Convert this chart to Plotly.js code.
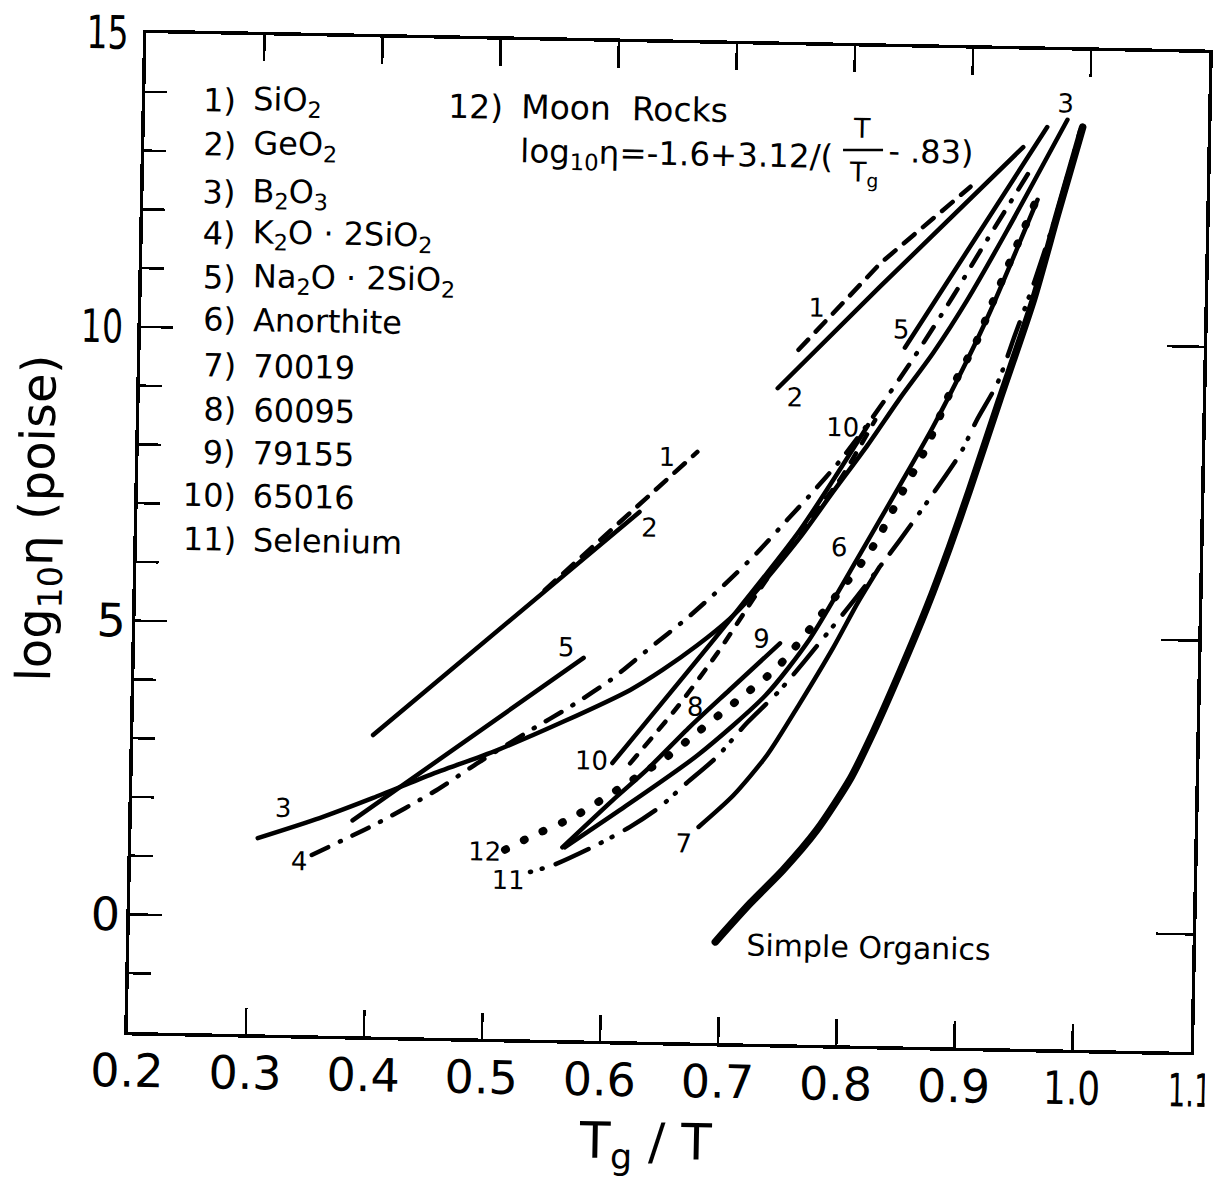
<!DOCTYPE html>
<html>
<head>
<meta charset="utf-8">
<script src="https://cdn.plot.ly/plotly-3.0.1.min.js"></script>
<style>
html,body{margin:0;padding:0;background:#fff;overflow:hidden;}
#chart{width:1215px;height:1180px;transform:rotate(1.077deg);transform-origin:668px 542px;}
</style>
</head>
<body>
<div id="chart"></div>
<script>
// ---------------- data (Tg/T , log10 eta) ----------------
const xTickVals = [0.2,0.3,0.4,0.5,0.6,0.7,0.8,0.9,1.0,1.1];
const xTickText = ['0.2','0.3','0.4','0.5','0.6','0.7','0.8','0.9','1.0','1.1'];
const yTickVals = [0,5,10,15];
const yTickText = ['0','5','10','15'];
const yMinorVals = [-1,1,2,3,4,6,7,8,9,11,12,13,14];

const sio2_x = [0.546,0.673,null,0.757,0.825,0.900];
const sio2_y = [5.65,8.05,null,9.82,11.32,12.65];

const geo2_x = [0.403,0.625,null,0.740,0.825,0.944];
const geo2_y = [3.13,7.01,null,9.16,10.92,13.34];

const b2o3_x = [0.307,0.359,0.404,0.452,0.508,0.564,0.620,0.647,0.676,0.703,0.720,0.761,0.788,0.817,0.844,0.871,0.899,0.932,0.981];
const b2o3_y = [1.34,1.70,2.06,2.47,2.91,3.42,3.98,4.33,4.76,5.22,5.58,6.62,7.40,8.22,9.04,9.81,10.72,11.93,13.82];

const k2o_x = [0.353,0.408,0.455,0.496,0.536,0.569,0.603,0.636,0.667,0.696,0.725,0.750,0.769,0.794,0.821,0.854,0.887,0.909,0.953];
const k2o_y = [1.07,1.63,2.18,2.74,3.26,3.67,4.14,4.70,5.22,5.76,6.35,6.92,7.35,7.95,8.70,9.70,10.78,11.55,13.04];

const na2o_x = [0.387,0.580,null,0.847,0.964];
const na2o_y = [1.67,4.51,null,9.89,13.69];

const anorthite_x = [0.567,0.613,0.678,0.735,0.771,0.812,0.845,0.872,0.900,0.919,0.957];
const anorthite_y = [1.28,1.93,2.89,3.94,4.90,6.35,7.55,8.55,9.70,10.55,12.45];

const s70019_x = [0.680,0.709,0.737,0.763,0.791,0.811,0.829];
const s70019_y = [1.67,2.22,2.92,3.78,4.76,5.53,6.15];

const s60095_x = [0.621,0.660,0.693,0.726,0.761,0.794,0.823];
const s60095_y = [2.73,3.70,4.63,5.67,6.72,7.62,8.65];

const s79155_x = [0.565,0.607,0.635,0.671,0.704,0.746];
const s79155_y = [1.28,2.10,2.62,3.37,4.01,4.82];

const s65016_x = [0.606,0.703,0.761,0.817];
const s65016_y = [2.73,5.20,6.75,8.56];

const selenium_x = [0.538,0.557,0.594,0.622,0.647,0.669,0.694,0.719,0.747,0.788,0.810,0.846,0.877,0.896,0.909,0.926,0.940,0.956,0.973,0.992];
const selenium_y = [0.85,0.97,1.33,1.65,2.00,2.41,2.86,3.45,4.03,5.06,5.63,6.62,7.53,8.12,8.68,9.32,10.14,11.08,12.20,13.65];

const moon_x = [0.5165,0.537,0.574,0.613,0.652,0.677,0.711,0.744,0.788,0.823,0.845,0.867,0.888,0.908,0.919,0.957];
const moon_y = [1.22,1.44,1.80,2.31,2.85,3.27,3.84,4.41,5.52,6.49,7.35,8.21,9.24,10.04,10.61,12.50];

const organics_x = [0.696,0.725,0.752,0.780,0.808,0.826,0.848,0.870,0.888,0.904,0.928,0.955,0.974,0.994];
const organics_y = [-0.28,0.39,0.96,1.65,2.55,3.32,4.37,5.49,6.51,7.49,9.03,10.74,12.20,13.70];

const legendNums = ['1)','2)','3)','4)','5)','6)','7)','8)','9)','10)','11)'];
const legendNames = ['SiO<sub>2</sub>','GeO<sub>2</sub>','B<sub>2</sub>O<sub>3</sub>',
  'K<sub>2</sub>O · 2SiO<sub>2</sub>','Na<sub>2</sub>O · 2SiO<sub>2</sub>','Anorthite',
  '70019','60095','79155','65016','Selenium'];

// ---------------- helpers ----------------
const FONT = 'DejaVu Sans, Liberation Sans, sans-serif';
function tr(x, y, width, dash, shape) {
  return {x: x, y: y, type: 'scatter', mode: 'lines', hoverinfo: 'skip', showlegend: false,
    line: {color: '#000', width: width, dash: dash, shape: shape, smoothing: 0.7}};
}
// layout placement helper (scan page pixel -> paper fraction of the unrotated plot)
const ROT = 0.0188, CX = 668, CY = 542, PL = 137, PT = 43, PW = 1063, PH = 999;
function at(X, Y) {
  const xu = X + ROT * (Y - CY), yu = Y - ROT * (X - CX);
  return [(xu - PL) / PW, 1 - (yu - PT) / PH];
}
function ann(text, X, Y, size, xanchor, extra) {
  const p = at(X, Y);
  return Object.assign({text: text, x: p[0], y: p[1], xref: 'paper', yref: 'paper',
    xanchor: xanchor || 'center', yanchor: 'middle', showarrow: false,
    font: {family: FONT, size: size, color: '#000'}}, extra || {});
}

const traces = [
  tr(sio2_x, sio2_y, 4.5, '14px,11px', 'linear'),
  tr(geo2_x, geo2_y, 4.5, 'solid', 'spline'),
  tr(b2o3_x, b2o3_y, 4.5, 'solid', 'spline'),
  tr(k2o_x, k2o_y, 4.5, '18px,13px,1px,13px', 'spline'),
  tr(na2o_x, na2o_y, 4.5, 'solid', 'linear'),
  tr(anorthite_x, anorthite_y, 4.5, 'solid', 'spline'),
  tr(s70019_x, s70019_y, 4.5, 'solid', 'spline'),
  tr(s60095_x, s60095_y, 4.5, '10px,12px', 'spline'),
  tr(s79155_x, s79155_y, 4.5, 'solid', 'spline'),
  tr(s65016_x, s65016_y, 4.5, 'solid', 'spline'),
  tr(selenium_x, selenium_y, 4.5, '1px,11px,1px,14px,36px,14px', 'spline'),
  tr(moon_x, moon_y, 8, '1px,20px', 'spline'),
  tr(organics_x, organics_y, 7.5, 'solid', 'spline'),
  {x: [null], y: [null], yaxis: 'y2', type: 'scatter', mode: 'lines', showlegend: false, hoverinfo: 'skip'}
];

const annotations = [];
const legendRowY = [101,145,193,234,278,320,366,410,453,496,540];
legendNums.forEach(function (t, i) {
  annotations.push(ann(t, 238, legendRowY[i], 32, 'right'));
  annotations.push(ann(legendNames[i], 251, legendRowY[i], 32, 'left'));
});
annotations.push(ann('12)', 505, 107, 33, 'right'));
annotations.push(ann('Moon  Rocks', 519, 107, 33, 'left'));
annotations.push(ann('log<sub>10</sub>η=-1.6+3.12/(', 518, 153, 32.5, 'left'));
annotations.push(ann('T', 862, 128, 27, 'center'));
annotations.push(ann('T<sub>g</sub>', 864, 174, 27, 'center'));
annotations.push(ann('- .83)', 886, 151, 32, 'left'));

const curveLabels = [
  ['1', 667, 457], ['2', 650, 528], ['1', 817, 308], ['2', 795, 397],
  ['3', 283, 808], ['3', 1066, 103], ['4', 300, 861], ['5', 567, 647],
  ['5', 902, 329], ['6', 839, 547], ['7', 684, 843], ['8', 695, 707],
  ['9', 762, 639], ['10', 591, 761], ['10', 843, 427], ['11', 508, 880],
  ['12', 485, 852]
];
curveLabels.forEach(function (c) { annotations.push(ann(c[0], c[1], c[2], 26, 'center')); });
annotations.push(ann('Simple Organics', 744, 945, 30, 'left'));
// axis titles
annotations.push(ann('log<sub>10</sub>η (poise)', 40, 518, 48, 'center', {textangle: -90}));
annotations.push(ann('T<sub>g</sub> / T', 645, 1145, 50, 'center'));

const fb0 = at(843, 150), fb1 = at(883, 150);
const shapes = [{type: 'line', xref: 'paper', yref: 'paper', x0: fb0[0], y0: fb0[1], x1: fb1[0], y1: fb1[1],
  line: {color: '#000', width: 2.5}}];

const layout = {
  width: 1215, height: 1180,
  margin: {l: PL, r: 1215 - PL - PW, t: PT, b: 1180 - PT - PH, pad: 0},
  paper_bgcolor: '#fff', plot_bgcolor: '#fff',
  showlegend: false,
  font: {family: FONT, color: '#000'},
  xaxis: {
    range: [0.2, 1.1], tickmode: 'array', tickvals: xTickVals, ticktext: xTickText,
    ticks: 'inside', ticklen: 26, tickwidth: 2.5, tickcolor: '#000',
    showline: true, linewidth: 3.5, linecolor: '#000', mirror: 'ticks',
    showgrid: false, zeroline: false, ticklabelstandoff: -4, ticklabeloverflow: 'allow',
    tickfont: {family: FONT, size: 46, color: '#000'}, fixedrange: true
  },
  yaxis: {
    range: [-2, 15], tickmode: 'array', tickvals: yTickVals, ticktext: yTickText,
    ticks: 'inside', ticklen: 32, tickwidth: 2.5, tickcolor: '#000',
    minor: {tickmode: 'array', tickvals: yMinorVals, ticks: 'inside', ticklen: 22, tickwidth: 2.5, tickcolor: '#000', showgrid: false},
    showline: true, linewidth: 3.5, linecolor: '#000', mirror: true,
    showgrid: false, zeroline: false, ticklabelstandoff: -3, ticklabeloverflow: 'allow',
    tickfont: {family: FONT, size: 46, color: '#000'}, fixedrange: true
  },
  yaxis2: {
    range: [-2, 15], overlaying: 'y', side: 'right', tickmode: 'array', tickvals: [0, 5, 10],
    ticks: 'inside', ticklen: 37, tickwidth: 2.5, tickcolor: '#000', showticklabels: false,
    showline: true, linewidth: 3.5, linecolor: '#000', showgrid: false, zeroline: false, fixedrange: true
  },
  annotations: annotations,
  shapes: shapes
};

// narrow hand lettering: labels that contain the digit "1" are condensed like the original
function condense(t, s) {
  const b = t.getBBox(), cx = b.x + b.width / 2;
  const tf = t.getAttribute('transform') || '';
  t.setAttribute('transform', tf + ' translate(' + cx + ',0) scale(' + s + ',1) translate(' + (-cx) + ',0)');
}

Plotly.newPlot('chart', traces, layout, {staticPlot: true, displayModeBar: false}).then(function (gd) {
  gd.querySelectorAll('path.js-line').forEach(function (p) {
    p.style.strokeLinecap = 'round';
    p.style.strokeLinejoin = 'round';
  });
  gd.querySelectorAll('.xtick text').forEach(function (t) {
    const s = t.textContent;
    if (s === '1.1') condense(t, 0.6);
    else if (s === '1.0') condense(t, 0.78);
  });
  gd.querySelectorAll('.ytick text').forEach(function (t) {
    if (t.textContent.indexOf('1') >= 0) condense(t, 0.72);
  });
});
</script>
</body>
</html>
